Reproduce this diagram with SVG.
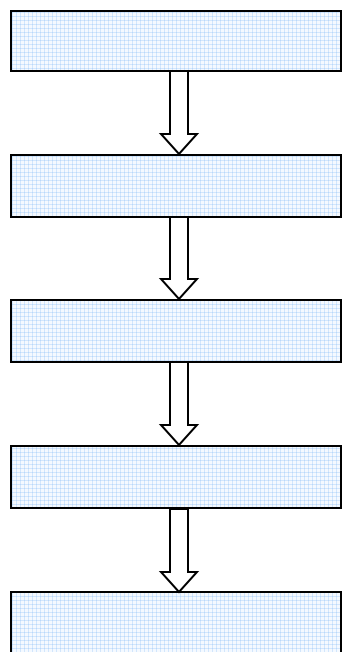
<svg xmlns="http://www.w3.org/2000/svg" width="342" height="652" viewBox="0 0 342 652">
  <defs>
    <pattern id="grid" x="0" y="0" width="4" height="4" patternUnits="userSpaceOnUse">
      <rect width="4" height="4" fill="#f4f9ff"/>
      <rect x="0" y="0" width="4" height="1" fill="#d2e6fc"/>
      <rect x="0" y="0" width="1" height="4" fill="#d2e6fc"/>
      <rect x="0" y="0" width="1" height="1" fill="#b8d8fb"/>
    </pattern>
  </defs>
  <style>
    .box { fill: url(#grid); stroke: #000; stroke-width: 2; }
    .arrow { fill: #fff; stroke: #000; stroke-width: 2; stroke-linejoin: miter; }
  </style>
  <rect width="342" height="652" fill="#fff"/>
  <g id="node1"><rect class="box" x="11" y="11" width="330" height="60"/></g>
  <g id="node2"><rect class="box" x="11" y="155" width="330" height="62"/></g>
  <g id="node3"><rect class="box" x="11" y="300" width="330" height="62"/></g>
  <g id="node4"><rect class="box" x="11" y="446" width="330" height="62"/></g>
  <g id="node5"><rect class="box" x="11" y="592" width="330" height="70"/></g>
  <g id="connectors">
    <polygon class="arrow" points="170,71 188,71 188,134 197,134 179,154 161,134 170,134"/>
    <polygon class="arrow" points="170,217 188,217 188,279 197,279 179,299 161,279 170,279"/>
    <polygon class="arrow" points="170,362 188,362 188,425 197,425 179,445 161,425 170,425"/>
    <polygon class="arrow" points="170,509 188,509 188,572 197,572 179,592 161,572 170,572"/>
  </g>
</svg>
